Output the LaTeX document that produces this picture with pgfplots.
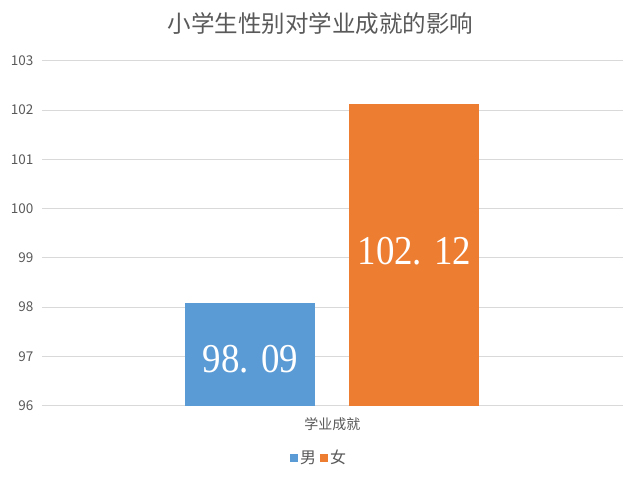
\documentclass[border=0pt]{standalone}
\usepackage{pgfplots}
\pgfplotsset{compat=1.18}
\usepackage{fontspec}
\setmainfont{Noto Sans CJK SC}
\newfontfamily\numfont[FakeStretch=0.9]{Liberation Serif}

\definecolor{barblue}{HTML}{5B9BD5}
\definecolor{barorange}{HTML}{ED7D31}
\definecolor{txtgray}{HTML}{595959}
\definecolor{gridgray}{HTML}{D9D9D9}

\begin{document}
\begin{tikzpicture}
  \useasboundingbox (0,0) rectangle (641pt,480pt);
  \begin{axis}[
    at={(42pt,74.3pt)}, anchor=south west,
    scale only axis,
    width=581pt, height=345pt,
    xmin=-0.5, xmax=0.5,
    ymin=96, ymax=103,
    ytick={96,97,...,103},
    xtick={0},
    xticklabels={学业成就},
    ymajorgrids,
    grid style={draw=gridgray, line width=0.9pt},
    axis line style={draw=none},
    tick style={draw=none},
    /pgf/number format/assume math mode=true,
    yticklabel style={font=\fontsize{13.5}{14}\selectfont, text=txtgray, xshift=-5pt},
    xticklabel style={font=\fontsize{14}{15}\selectfont, text=txtgray, yshift=-4pt},
    title={小学生性别对学业成就的影响},
    title style={at={(rel axis cs:0.479,1)}, anchor=center, yshift=31pt,
      font=\fontsize{23.5}{25}\selectfont, text=txtgray},
    ybar, bar width=130pt,
    legend columns=2,
    legend style={at={(rel axis cs:0.477,-0.151)}, anchor=center, draw=none,
      font=\fontsize{16}{17}\selectfont, text=txtgray,
      nodes={inner sep=2pt},
      /tikz/every even column/.append style={column sep=2pt},
      inner sep=0pt},
    legend image code/.code={\draw[#1,draw=none] (0pt,-4pt) rectangle (8pt,4pt);},
  ]
    \addplot[fill=barblue, draw=none, bar shift=-82pt,
      nodes near coords={98. 09},
      every node near coord/.append style={anchor=center, yshift=-56pt,
        text=white, font=\numfont\fontsize{41}{41}\selectfont}]
      coordinates {(0,98.09)};
    \addlegendentry{男}
    \addplot[fill=barorange, draw=none, bar shift=82pt,
      nodes near coords={102. 12},
      every node near coord/.append style={anchor=center, yshift=-147pt,
        text=white, font=\numfont\fontsize{41}{41}\selectfont}]
      coordinates {(0,102.12)};
    \addlegendentry{女}
  \end{axis}
\end{tikzpicture}
\end{document}
